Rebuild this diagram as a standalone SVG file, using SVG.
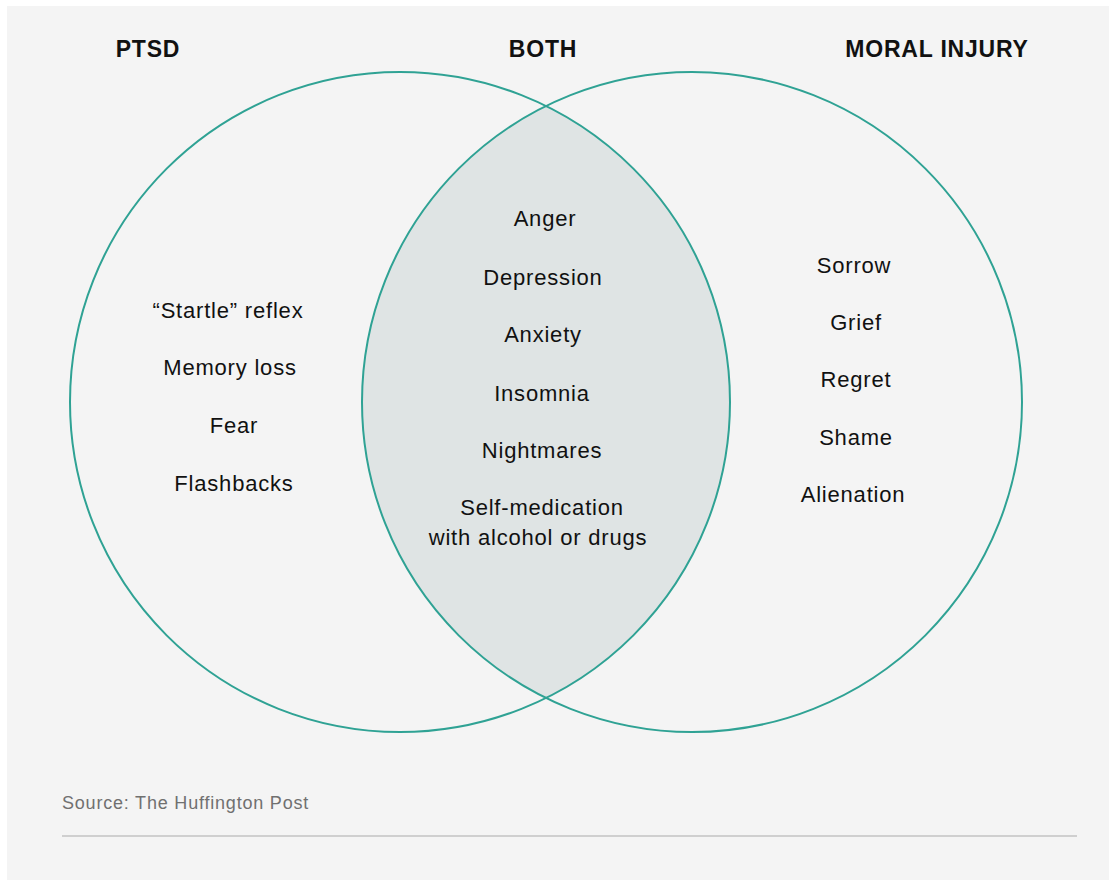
<svg xmlns="http://www.w3.org/2000/svg" width="1109" height="880" viewBox="0 0 1109 880">
<style>
.t{font-family:"Liberation Sans",Arial,sans-serif;font-size:22px;letter-spacing:0.8px;fill:#111;text-anchor:middle}
.h{font-family:"Liberation Sans",Arial,sans-serif;font-size:23px;letter-spacing:0.8px;font-weight:bold;fill:#111;text-anchor:middle}
.c{fill:none;stroke:#2fa294;stroke-width:2}
</style>
<defs>
<clipPath id="lc"><circle cx="400" cy="402" r="330"/></clipPath>
</defs>
<rect width="1109" height="880" fill="#ffffff"/>
<rect x="7" y="6" width="1102" height="874" fill="#f4f4f4"/>
<g id="lens">
<circle cx="692" cy="402" r="330" fill="#dfe4e4" clip-path="url(#lc)"/>
</g>
<g id="ptsd">
<circle class="c" cx="400" cy="402" r="330"/>
<text class="h" x="148" y="57">PTSD</text>
<text class="t" x="228" y="318">“Startle” reflex</text>
<text class="t" x="230" y="375">Memory loss</text>
<text class="t" x="234" y="433">Fear</text>
<text class="t" x="234" y="491">Flashbacks</text>
</g>
<g id="moral">
<circle class="c" cx="692" cy="402" r="330"/>
<text class="h" x="937" y="57">MORAL INJURY</text>
<text class="t" x="854" y="273">Sorrow</text>
<text class="t" x="856" y="330">Grief</text>
<text class="t" x="856" y="387">Regret</text>
<text class="t" x="856" y="445">Shame</text>
<text class="t" x="853" y="502">Alienation</text>
</g>
<g id="both">
<text class="h" x="543" y="57">BOTH</text>
<text class="t" x="545" y="226">Anger</text>
<text class="t" x="543" y="285">Depression</text>
<text class="t" x="543" y="342">Anxiety</text>
<text class="t" x="542" y="401">Insomnia</text>
<text class="t" x="542" y="458">Nightmares</text>
<text class="t" x="542" y="515">Self-medication</text>
<text class="t" x="538" y="545">with alcohol or drugs</text>
</g>
<g id="footer">
<text x="62" y="809" font-family="'Liberation Sans',Arial,sans-serif" font-size="18" letter-spacing="0.8" fill="#707070">Source: The Huffington Post</text>
<line x1="62" y1="836" x2="1077" y2="836" stroke="#cfcfcf" stroke-width="2"/>
</g>
</svg>
